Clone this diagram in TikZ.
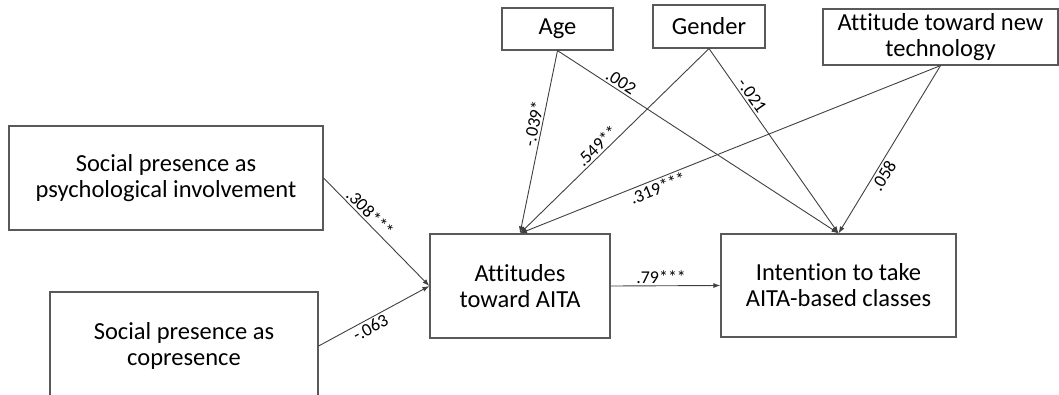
\documentclass[tikz,border=0pt]{standalone}
\usepackage{fontspec}
\setmainfont{Carlito}[Ligatures=NoCommon]
\usetikzlibrary{arrows.meta}

\begin{document}
\begin{tikzpicture}[x=1pt, y=-1pt,
    box/.style={draw=black!65, line width=1.2pt, inner sep=0pt, align=center,
        font=\fontsize{24.5}{26}\selectfont},
    arr/.style={draw=black!75, line width=0.9pt, -{Latex[length=7pt,width=5pt]}},
    coef/.style={font=\fontsize{18}{20}\selectfont, inner sep=2pt, sloped}]
    \clip (0,0) rectangle (1059,394);

    % Boxes
    \node[box, minimum width=111, minimum height=42] (age) at (557.5,29) {Age};
    \node[box, minimum width=112, minimum height=43] (gender) at (709,26.5) {Gender};
    \node[box, minimum width=235, minimum height=56] (tech) at (940.5,37) {Attitude toward new\\technology};
    \node[box, minimum width=314, minimum height=104] (psych) at (166,178) {Social presence as\\psychological involvement};
    \node[box, minimum width=268, minimum height=108] (copres) at (184,346) {Social presence as\\copresence};
    \node[box, minimum width=180, minimum height=104] (aita) at (520,286) {Attitudes\\toward AITA};
    \node[box, minimum width=235, minimum height=103] (intent) at (838.5,285.5) {Intention to take\\AITA-based classes};

    % Social presence -> attitudes
    \draw[arr] (psych.east) -- (aita.west) node[coef, pos=0.38, above] {.308***};
    \draw[arr] (copres.east) -- (aita.west) node[coef, pos=0.43, below] {-.063};

    % Controls -> attitudes
    \draw[arr] (age.south) -- (aita.north) node[coef, pos=0.41, above] {-.039*};
    \draw[arr] (gender.south) -- (aita.north) node[coef, pos=0.56, above] {.549**};
    \draw[arr] (tech.south) -- (aita.north) node[coef, pos=0.68, below] {.319***};

    % Controls -> intention
    \draw[arr] (age.south) -- (intent.north) node[coef, pos=0.21, above] {.002};
    \draw[arr] (gender.south) -- (intent.north) node[coef, pos=0.28, above] {-.021};
    \draw[arr] (tech.south) -- (intent.north) node[coef, pos=0.63, below] {.058};

    % Attitudes -> intention
    \draw[arr] (aita.east) -- (intent.west) node[coef, pos=0.46, above] {.79***};
\end{tikzpicture}
\end{document}
